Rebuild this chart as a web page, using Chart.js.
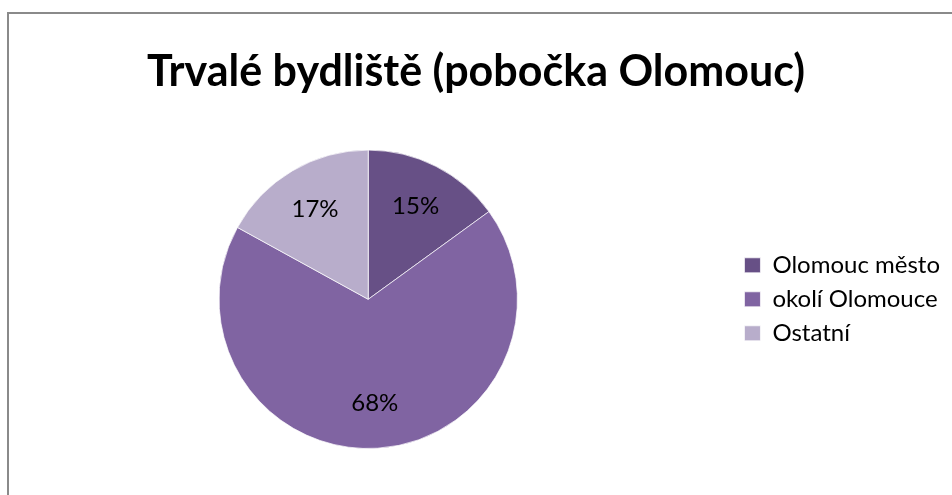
<!DOCTYPE html>
<html>
<head>
<meta charset="utf-8">
<script src="https://cdn.jsdelivr.net/npm/chart.js@4/dist/chart.umd.min.js"></script>
<style>
  html, body { margin: 0; padding: 0; background: #fff; overflow: hidden; }
  #frame { position: absolute; left: 7px; top: 12px; width: 980px; height: 520px; border: 2px solid #8a8a8a; box-sizing: border-box; }
  #wrap { position: absolute; left: 0; top: 0; width: 952px; height: 495px; }
</style>
</head>
<body>
<div id="frame"></div>
<div id="wrap"><canvas id="myChart"></canvas></div>
<script>
const labels = ['Olomouc město', 'okolí Olomouce', 'Ostatní'];
const values = [15, 68, 17];
const colors = ['#675086', '#8064A2', '#B8ADCB'];

// percentage labels inside the slices
const sliceLabels = {
  id: 'sliceLabels',
  afterDatasetsDraw(chart) {
    const ctx = chart.ctx;
    const meta = chart.getDatasetMeta(0);
    const total = values.reduce((a, b) => a + b, 0);
    ctx.save();
    ctx.font = '24px Lato';
    ctx.fillStyle = '#000';
    ctx.textAlign = 'center';
    ctx.textBaseline = 'middle';
    meta.data.forEach((arc, i) => {
      const p = arc.getProps(['x', 'y', 'startAngle', 'endAngle', 'outerRadius']);
      const mid = (p.startAngle + p.endAngle) / 2;
      const r = p.outerRadius * 0.7;
      const pct = Math.round(values[i] / total * 100) + '%';
      ctx.fillText(pct, p.x + Math.cos(mid) * r, p.y + Math.sin(mid) * r);
    });
    ctx.restore();
  }
};

const data = {
  labels: labels,
  datasets: [{
    data: values,
    backgroundColor: colors,
    borderColor: 'rgba(255,255,255,0.7)',
    borderWidth: 1
  }]
};

const config = {
  type: 'pie',
  data: data,
  options: {
    responsive: false,
    animation: false,
    layout: { padding: { left: 2, right: 2, top: 0, bottom: 46 } },
    plugins: {
      title: {
        display: true,
        text: 'Trvalé bydliště (pobočka Olomouc)',
        color: '#000',
        font: { family: 'Lato', size: 43, weight: 'bold' },
        padding: { top: 46, bottom: 52 }
      },
      legend: {
        position: 'right',
        fullSize: false,
        labels: {
          color: '#000',
          font: { family: 'Lato', size: 24 },
          boxWidth: 16,
          boxHeight: 15,
          padding: 10
        }
      },
      tooltip: { enabled: false }
    }
  },
  plugins: [sliceLabels]
};

const canvas = document.getElementById('myChart');
canvas.width = 952;
canvas.height = 495;
const myChart = new Chart(canvas, config);
</script>
</body>
</html>
